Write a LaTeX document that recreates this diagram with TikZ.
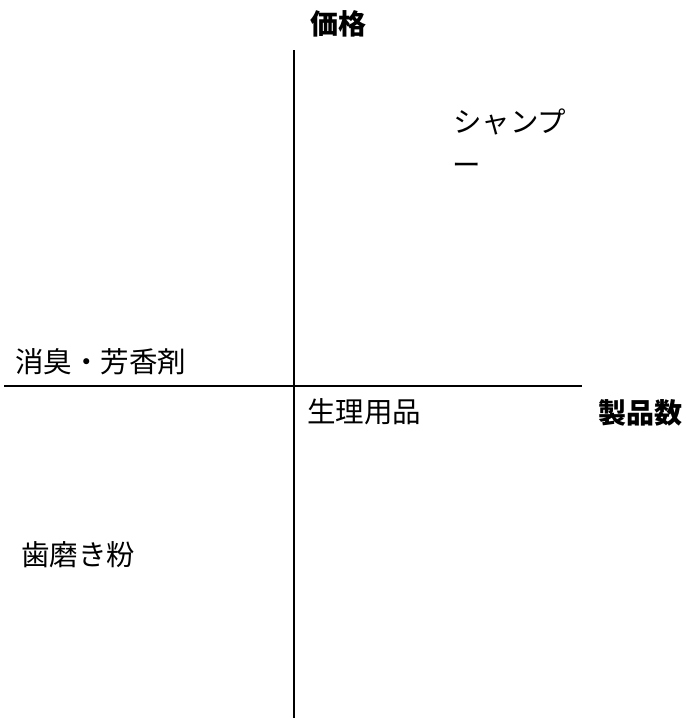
\documentclass[tikz,border=0pt]{standalone}
\usepackage{fontspec}
\newfontfamily\cjk{Noto Sans CJK JP}
\begin{document}
\begin{tikzpicture}[x=1pt,y=-1pt,
  axisline/.style={line width=1.8pt,black},
  lbl/.style={inner sep=0pt,font=\cjk\fontsize{28.5}{34}\selectfont},
  axlbl/.style={inner sep=0pt,font=\cjk\bfseries\fontsize{28}{34}\selectfont}]
\useasboundingbox (0,0) rectangle (686,718);
\coordinate (vtop) at (294,50);
\coordinate (vbot) at (294,718);
\coordinate (hl) at (4,386);
\coordinate (hr) at (582,386);
\draw[axisline] (vtop) -- (vbot);
\draw[axisline] (hl) -- (hr);
\node[axlbl] (price) at (338,24) {価格};
\node[axlbl] (count) at (640,413) {製品数};
\node[lbl,anchor=west] (deo) at (15,362) {消臭・芳香剤};
\node[lbl,anchor=west] (sani) at (307,412) {生理用品};
\node[lbl,anchor=west] (tooth) at (21,555) {歯磨き粉};
\node[lbl,anchor=west] (sham1) at (453,122) {シャンプ};
\node[lbl,anchor=west] (sham2) at (452,169) {ー};
\end{tikzpicture}
\end{document}
